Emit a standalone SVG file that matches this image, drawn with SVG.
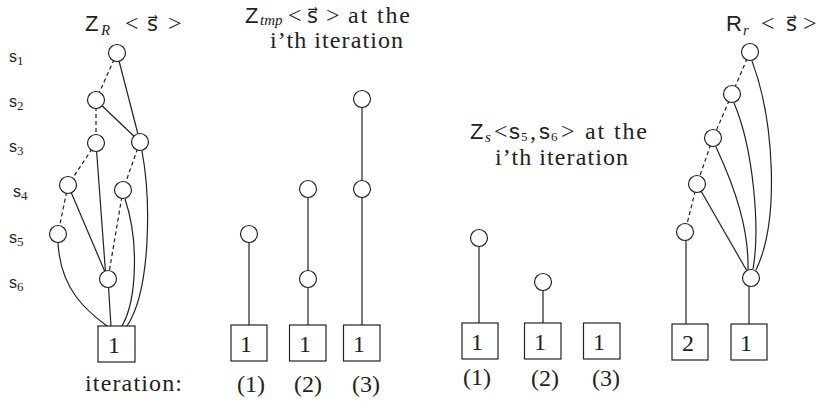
<svg xmlns="http://www.w3.org/2000/svg" width="819" height="401" viewBox="0 0 819 401">
<style>
.rm{font-family:"Liberation Serif","Times New Roman",serif;font-size:24px;fill:#222}
.it{font-family:"Liberation Serif","Times New Roman",serif;font-style:italic;font-size:15px;fill:#222}
.sf{font-family:"Liberation Sans",Arial,sans-serif;font-size:22px;fill:#222}
.vec{font-family:"DejaVu Sans","Liberation Sans",sans-serif;font-size:21px;fill:#222}
.lab{font-family:"Liberation Sans",Arial,sans-serif;font-size:16px;fill:#222}
.sub{font-family:"Liberation Serif","Times New Roman",serif;font-size:13px;fill:#222}
.node{fill:#fff;stroke:#222;stroke-width:1.2}
.box{fill:#fff;stroke:#222;stroke-width:1.2}
.e{fill:none;stroke:#222;stroke-width:1.2}
.d{fill:none;stroke:#222;stroke-width:1.2;stroke-dasharray:4 3}
.num{font-family:"Liberation Serif","Times New Roman",serif;font-size:24px;fill:#222;text-anchor:middle}
</style>

<g id="titles">
<text y="31"><tspan class="sf" x="85">Z</tspan><tspan class="it" x="101" dy="4">R</tspan><tspan class="rm" x="125" dy="-4">&lt;</tspan><tspan class="vec" x="147">s⃗</tspan><tspan class="rm" x="168">&gt;</tspan></text>
<text y="23"><tspan class="sf" x="245">Z</tspan><tspan class="it" x="260" dy="2">tmp</tspan><tspan class="rm" x="288" dy="-2">&lt;</tspan><tspan class="vec" x="307">s⃗</tspan><tspan class="rm" x="326">&gt;</tspan><tspan class="rm" x="348" textLength="62">at the</tspan></text>
<text class="rm" x="270" y="48" textLength="133">i’th iteration</text>
<text y="139"><tspan class="sf" x="470">Z</tspan><tspan class="it" x="485" dy="3">s</tspan><tspan class="rm" x="494" dy="-3">&lt;</tspan><tspan class="sf" x="509">s</tspan><tspan class="sub" x="521" dy="2">5</tspan><tspan class="rm" x="530" dy="-2">,</tspan><tspan class="sf" x="539">s</tspan><tspan class="sub" x="551" dy="2">6</tspan><tspan class="rm" x="561" dy="-2">&gt;</tspan><tspan class="rm" x="585" textLength="62">at the</tspan></text>
<text class="rm" x="495" y="165" textLength="133">i’th iteration</text>
<text y="31"><tspan class="sf" x="726">R</tspan><tspan class="it" x="743" dy="4">r</tspan><tspan class="rm" x="761" dy="-4">&lt;</tspan><tspan class="vec" x="786">s⃗</tspan><tspan class="rm" x="803">&gt;</tspan></text>
</g>

<g id="rowlabels">
<text x="9" y="62"><tspan class="lab">s</tspan><tspan class="sub" dy="3">1</tspan></text>
<text x="9" y="107"><tspan class="lab">s</tspan><tspan class="sub" dy="3">2</tspan></text>
<text x="9" y="152"><tspan class="lab">s</tspan><tspan class="sub" dy="3">3</tspan></text>
<text x="13" y="197"><tspan class="lab">s</tspan><tspan class="sub" dy="3">4</tspan></text>
<text x="9" y="243"><tspan class="lab">s</tspan><tspan class="sub" dy="3">5</tspan></text>
<text x="9" y="288"><tspan class="lab">s</tspan><tspan class="sub" dy="3">6</tspan></text>
</g>

<g id="connectors">
<line class="d" x1="117" y1="53" x2="96" y2="100"/>
<line class="e" x1="117" y1="53" x2="140" y2="142"/>
<line class="e" x1="96" y1="100" x2="140" y2="142"/>
<line class="d" x1="96" y1="100" x2="96" y2="143"/>
<line class="d" x1="96" y1="143" x2="68" y2="185"/>
<line class="e" x1="96" y1="143" x2="106" y2="279"/>
<line class="d" x1="140" y1="142" x2="123" y2="190"/>
<line class="d" x1="68" y1="185" x2="58" y2="234"/>
<line class="e" x1="68" y1="185" x2="108" y2="279"/>
<line class="d" x1="123" y1="190" x2="108" y2="279"/>
<line class="e" x1="108" y1="279" x2="111" y2="326"/>
<path class="e" d="M58,242 C60,290 88,312 107,326"/>
<path class="e" d="M142,151 C151,200 151,290 127,326"/>
<path class="e" d="M125,199 C139,240 137,300 122,326"/>
<line class="e" x1="249" y1="234" x2="249" y2="325"/>
<line class="e" x1="308" y1="189" x2="308" y2="325"/>
<line class="e" x1="362" y1="99" x2="362" y2="325"/>
<line class="e" x1="479" y1="238" x2="479" y2="323"/>
<line class="e" x1="543" y1="282" x2="543" y2="323"/>
<line class="d" x1="750" y1="52" x2="732" y2="94"/>
<line class="d" x1="732" y1="94" x2="713" y2="138"/>
<line class="d" x1="713" y1="138" x2="697" y2="184"/>
<line class="d" x1="697" y1="184" x2="685" y2="232"/>
<line class="e" x1="697" y1="184" x2="751" y2="278"/>
<line class="e" x1="686" y1="232" x2="686" y2="324"/>
<line class="e" x1="749" y1="278" x2="749" y2="324"/>
<path class="e" d="M752,61 C774,120 780,220 756,270"/>
<path class="e" d="M734,103 C754,150 760,230 753,269"/>
<path class="e" d="M716,147 C736,190 749,230 748,270"/>
</g>

<g id="zr-s1"><circle class="node" cx="117" cy="53" r="8.5"/></g>
<g id="zr-s2"><circle class="node" cx="96" cy="100" r="8.5"/></g>
<g id="zr-s3a"><circle class="node" cx="96" cy="143" r="8.5"/></g>
<g id="zr-s3b"><circle class="node" cx="140" cy="142" r="8.5"/></g>
<g id="zr-s4a"><circle class="node" cx="68" cy="185" r="8.5"/></g>
<g id="zr-s4b"><circle class="node" cx="123" cy="190" r="8.5"/></g>
<g id="zr-s5"><circle class="node" cx="58" cy="234" r="8.5"/></g>
<g id="zr-s6"><circle class="node" cx="108" cy="279" r="8.5"/></g>
<g id="zr-leaf"><rect class="box" x="98" y="326" width="37" height="36"/><text class="num" x="114" y="353">1</text></g>
<text class="rm" x="85" y="391" textLength="97">iteration:</text>

<g id="zt1-n"><circle class="node" cx="249" cy="234" r="8.5"/></g>
<g id="zt1-leaf"><rect class="box" x="231" y="325" width="36" height="36"/><text class="num" x="246" y="352">1</text></g>
<g id="zt2-n1"><circle class="node" cx="308" cy="189" r="8.5"/></g>
<g id="zt2-n2"><circle class="node" cx="308" cy="279" r="8.5"/></g>
<g id="zt2-leaf"><rect class="box" x="289.5" y="325" width="36.5" height="36"/><text class="num" x="305" y="352">1</text></g>
<g id="zt3-n1"><circle class="node" cx="362" cy="99" r="8.5"/></g>
<g id="zt3-n2"><circle class="node" cx="362" cy="189" r="8.5"/></g>
<g id="zt3-leaf"><rect class="box" x="343.5" y="325" width="36.5" height="36"/><text class="num" x="359" y="352">1</text></g>
<text class="rm" x="251" y="392" text-anchor="middle">(1)</text>
<text class="rm" x="308" y="392" text-anchor="middle">(2)</text>
<text class="rm" x="366" y="392" text-anchor="middle">(3)</text>

<g id="zs1-n"><circle class="node" cx="479" cy="238" r="8.5"/></g>
<g id="zs1-leaf"><rect class="box" x="462" y="323" width="36" height="36"/><text class="num" x="477" y="350">1</text></g>
<g id="zs2-n"><circle class="node" cx="543" cy="282" r="8.5"/></g>
<g id="zs2-leaf"><rect class="box" x="524.5" y="323" width="36.5" height="36"/><text class="num" x="540" y="350">1</text></g>
<g id="zs3-leaf"><rect class="box" x="583.5" y="323" width="36.5" height="36"/><text class="num" x="599" y="350">1</text></g>
<text class="rm" x="477" y="385" text-anchor="middle">(1)</text>
<text class="rm" x="545" y="386" text-anchor="middle">(2)</text>
<text class="rm" x="606" y="386" text-anchor="middle">(3)</text>

<g id="rr-s1"><circle class="node" cx="750" cy="52" r="8.5"/></g>
<g id="rr-s2"><circle class="node" cx="732" cy="94" r="8.5"/></g>
<g id="rr-s3"><circle class="node" cx="713" cy="138" r="8.5"/></g>
<g id="rr-s4"><circle class="node" cx="697" cy="184" r="8.5"/></g>
<g id="rr-s5"><circle class="node" cx="685" cy="232" r="8.5"/></g>
<g id="rr-s6"><circle class="node" cx="751" cy="278" r="8.5"/></g>
<g id="rr-leaf2"><rect class="box" x="672" y="324" width="36" height="36"/><text class="num" x="688" y="351">2</text></g>
<g id="rr-leaf1"><rect class="box" x="731" y="324" width="36" height="36"/><text class="num" x="746" y="351">1</text></g>
</svg>
